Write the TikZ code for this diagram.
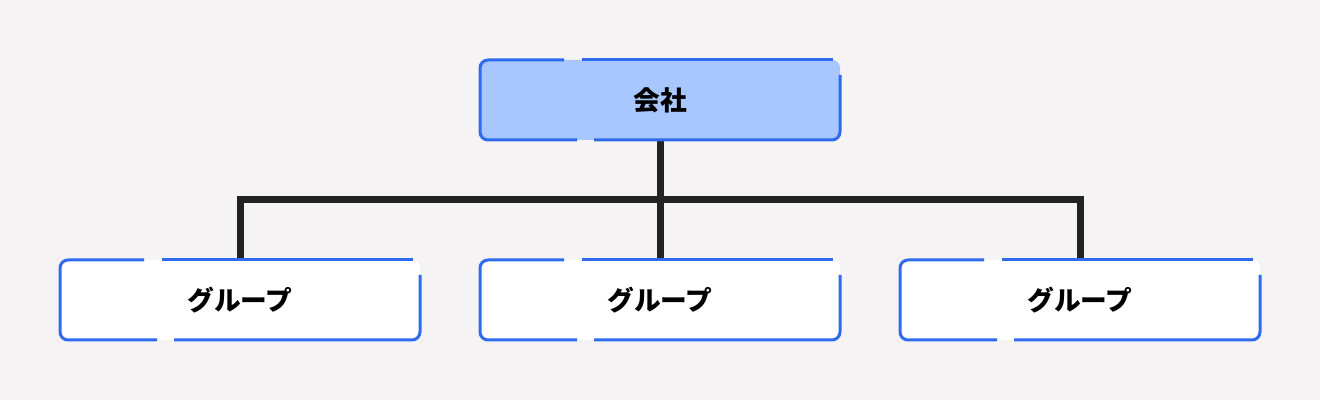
\documentclass[tikz,border=0pt]{standalone}
\usepackage{fontspec}
\newfontfamily\cjk{Noto Sans CJK JP}
\usetikzlibrary{calc, positioning}

\definecolor{bgcol}{RGB}{245,243,244}
\definecolor{edgecol}{RGB}{46,107,239}
\definecolor{topfill}{RGB}{169,199,255}
\definecolor{linecol}{RGB}{34,34,34}

\tikzset{
  unit/.style={rounded corners=0.16cm, minimum width=7.2cm, minimum height=1.6cm,
    inner sep=0pt, outer sep=0pt, font=\cjk\bfseries\fontsize{15.2pt}{18pt}\selectfont},
  company/.style={unit, fill=topfill},
  group/.style={unit, fill=white},
  edge/.style={draw=edgecol, line width=0.06cm},
  link/.style={draw=linecol, line width=0.14cm}
}

% sketchy border round a node
\newcommand{\unitborder}[1]{
  \draw[edge, rounded corners=0.16cm] ($(#1.north west)+(1.68,0)$) -- (#1.north west)
    -- (#1.south west) -- ($(#1.south west)+(1.94,0)$);
  \draw[edge, rounded corners=0.16cm] ($(#1.south west)+(2.28,0)$) -- (#1.south east)
    -- ($(#1.north east)+(0,-0.3)$);
  \draw[edge] ($(#1.north west)+(2.04,0)$) -- ($(#1.north east)+(-0.14,0)$);
}

\begin{document}
\begin{tikzpicture}
  \fill[bgcol] (0,0) rectangle (26.4,-8);
  \useasboundingbox (0,0) rectangle (26.4,-8);

  \node[company] (corp) at (13.2,-2) {会社};
  \node[group] (g1) at (4.8,-6) {グループ};
  \node[group] (g2) at (13.2,-6) {グループ};
  \node[group] (g3) at (21.6,-6) {グループ};

  % tree lines
  \draw[link] (corp.south) -- (g2.north);
  \draw[link] (g1.north) -- ++(0,1.2) -| (g3.north);

  \unitborder{corp}
  \unitborder{g1}
  \unitborder{g2}
  \unitborder{g3}
\end{tikzpicture}
\end{document}
